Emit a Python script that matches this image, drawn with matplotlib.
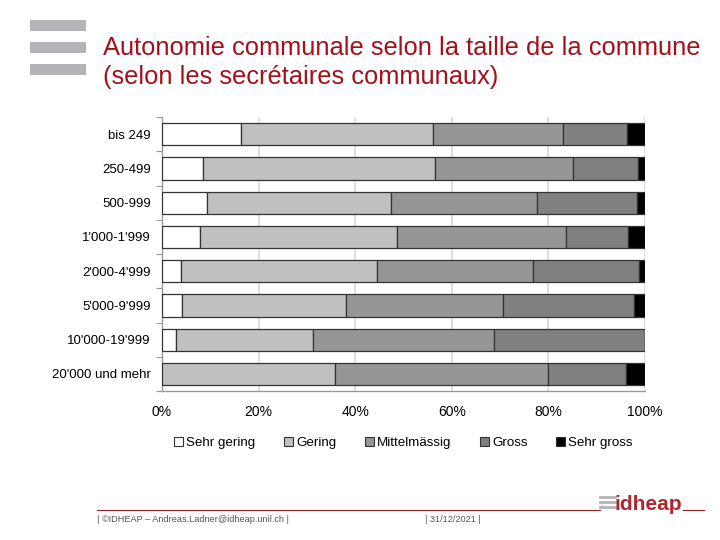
import matplotlib.pyplot as plt
import numpy as np
from matplotlib.lines import Line2D
from matplotlib.patches import Rectangle

plt.rcParams['font.family'] = ['Liberation Sans', 'DejaVu Sans']

# data (percent of respondents)
sizes = ["bis 249", "250-499", "500-999", "1'000-1'999", "2'000-4'999",
         "5'000-9'999", "10'000-19'999", "20'000 und mehr"]
levels = ['Sehr gering', 'Gering', 'Mittelmässig', 'Gross', 'Sehr gross']
sehr_gering = [16.4, 8.4, 9.3, 7.9, 3.9, 4.1, 3.0, 0.0]
gering = [39.7, 48.1, 38.2, 40.8, 40.5, 34.0, 28.2, 35.9]
mittel = [27.0, 28.5, 30.1, 35.0, 32.3, 32.4, 37.5, 44.1]
gross = [13.1, 13.5, 20.7, 12.7, 22.1, 27.3, 31.3, 16.0]
sehr_gross = [3.8, 1.5, 1.7, 3.6, 1.2, 2.2, 0.0, 4.0]

series = [sehr_gering, gering, mittel, gross, sehr_gross]
colors = ['#ffffff', '#c0c0c0', '#969696', '#808080', '#000000']

RED = '#a3111c'
DARKRED = '#8a1f26'
LOGORED = '#b0262d'
GRAY = '#b4b4b8'

fig = plt.figure(figsize=(7.2, 5.4), dpi=100)
ax = fig.add_axes([0.225, 0.276, 0.671, 0.507])

y = np.arange(len(sizes))
left = np.zeros(len(sizes))
for vals, col, lab in zip(series, colors, levels):
    ax.barh(y, vals, left=left, height=0.65, color=col, edgecolor='#333333',
            linewidth=0.9, label=lab, zorder=3)
    left += np.array(vals)

ax.set_xlim(0, 100)
ax.set_ylim(len(sizes) - 0.5, -0.5)
ax.set_xticks(np.arange(0, 101, 20))
ax.set_xticklabels([f'{v}%' for v in range(0, 101, 20)])
ax.set_yticks(y)
ax.set_yticklabels(sizes)
ax.set_yticks(np.arange(-0.5, len(sizes), 1), minor=True)
ax.tick_params(axis='y', which='major', length=0, pad=8, labelsize=9.5)
ax.tick_params(axis='y', which='minor', length=4, color='#999999', width=0.8)
ax.tick_params(axis='x', length=0, pad=10, labelsize=10)

ax.xaxis.grid(True, color='#d8d8d8', linewidth=1.2, zorder=0)
ax.set_axisbelow(True)
for s in ['top', 'right']:
    ax.spines[s].set_visible(False)
for s in ['left', 'bottom']:
    ax.spines[s].set_color('#999999')
    ax.spines[s].set_linewidth(1.0)

leg = ax.legend(loc='upper center', bbox_to_anchor=(0.5, -0.145), ncol=5,
                frameon=False, fontsize=9.6, handlelength=0.65, handleheight=0.65,
                handletextpad=0.25, columnspacing=2.15, borderpad=0)
for h in leg.legend_handles:
    h.set_edgecolor('#333333')
    h.set_linewidth(0.8)

# header: three gray bars and red title
for yy in [0.943, 0.902, 0.862]:
    fig.add_artist(Rectangle((30 / 720, yy), 56 / 720, 11 / 540,
                             transform=fig.transFigure, color=GRAY, lw=0))
fig.text(103 / 720, 1 - 48 / 540, 'Autonomie communale selon la taille de la commune',
         color=RED, fontsize=18.4, va='center', ha='left')
fig.text(103 / 720, 1 - 77 / 540, '(selon les secrétaires communaux)',
         color=RED, fontsize=18.4, va='center', ha='left')

# footer
fig.add_artist(Line2D([97 / 720, 600 / 720], [1 - 509.5 / 540] * 2,
                      transform=fig.transFigure, color=DARKRED, lw=0.8))
fig.add_artist(Line2D([683 / 720, 704 / 720], [1 - 509.5 / 540] * 2,
                      transform=fig.transFigure, color=DARKRED, lw=0.8))
fig.text(97 / 720, 1 - 520 / 540, '| ©IDHEAP – Andreas.Ladner@idheap.unil.ch |',
         color='#555555', fontsize=6.6, va='center', ha='left')
fig.text(425 / 720, 1 - 520 / 540, '| 31/12/2021 |',
         color='#555555', fontsize=6.6, va='center', ha='left')
for yy in [497, 502, 507]:
    fig.add_artist(Line2D([600 / 720, 615 / 720], [1 - yy / 540] * 2,
                          transform=fig.transFigure, color=GRAY, lw=2.0))
fig.text(615 / 720, 1 - 510 / 540, 'idheap', color=LOGORED, fontsize=15,
         fontweight='bold', va='baseline', ha='left',
         family=['Liberation Sans Narrow', 'Liberation Sans'])

fig.savefig('out.png', dpi=100)
